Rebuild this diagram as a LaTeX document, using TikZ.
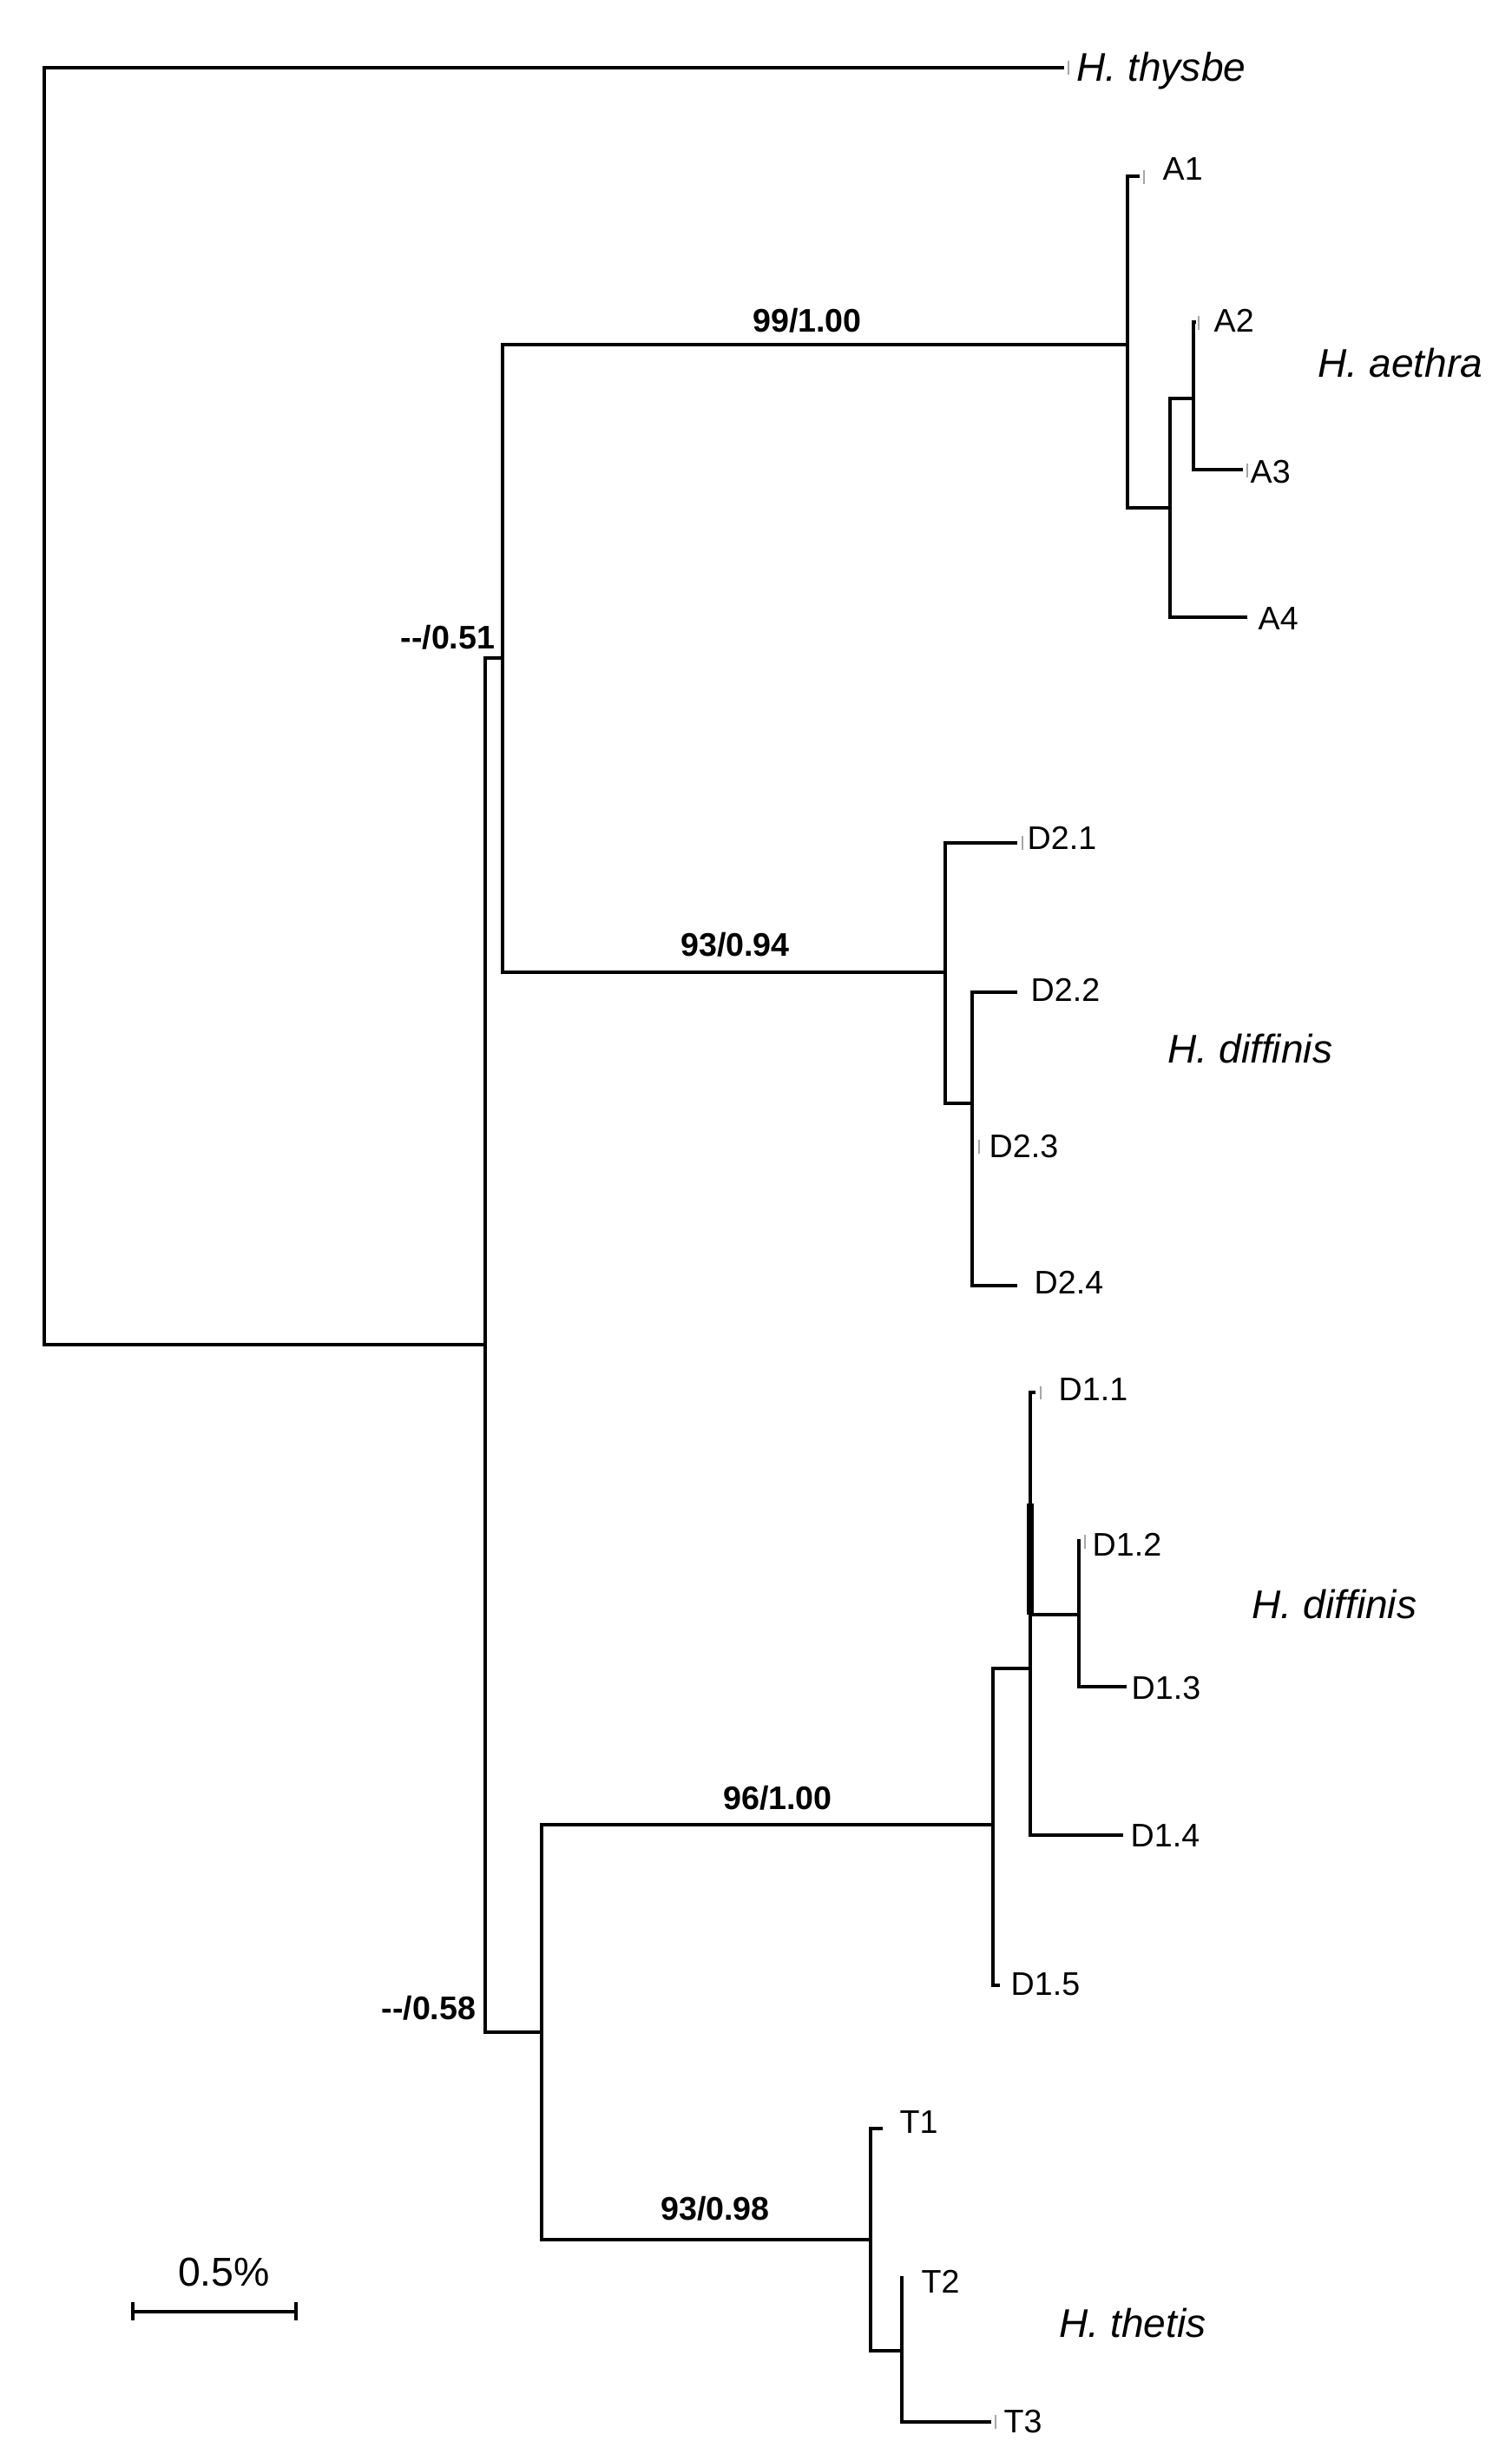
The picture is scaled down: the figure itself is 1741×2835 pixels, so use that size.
\documentclass[tikz,border=0pt]{standalone}
\usepackage{fontspec}
\setmainfont{Liberation Sans}
\begin{document}
\begin{tikzpicture}[x=0.01cm,y=-0.01cm,
  br/.style={line width=1.1pt, line join=miter},
  tick/.style={line width=0.5pt, draw=black!35},
  leaf/.style={anchor=base west, inner sep=0pt, font=\fontsize{10.7}{12}\selectfont},
  spec/.style={anchor=base west, inner sep=0pt, font=\fontsize{13.1}{15}\selectfont\itshape},
  supp/.style={anchor=base, inner sep=0pt, font=\fontsize{10.7}{12}\selectfont\bfseries},
  suppr/.style={anchor=base east, inner sep=0pt, font=\fontsize{10.7}{12}\selectfont\bfseries},
  scalelbl/.style={anchor=base, inner sep=0pt, font=\fontsize{13.2}{15}\selectfont}]
\useasboundingbox (0,0) rectangle (1741,2835);

% internal nodes and tips
\coordinate (root) at (51,814);
\coordinate (tthy) at (1226,78);
\coordinate (n1) at (559,1549);
\coordinate (nA) at (579,758);
\coordinate (nB) at (624,2341);
\coordinate (aeth) at (1299,397);
\coordinate (tA1) at (1313,203);
\coordinate (a234) at (1348,585);
\coordinate (a23) at (1375,459);
\coordinate (tA2) at (1378,371);
\coordinate (tA3) at (1432,541);
\coordinate (tA4) at (1437,711);
\coordinate (d2) at (1089,1120);
\coordinate (tD21) at (1172,971);
\coordinate (d234) at (1120,1271);
\coordinate (tD22) at (1172,1143);
\coordinate (tD23) at (1122,1321);
\coordinate (tD24) at (1172,1481);
\coordinate (d1) at (1144,2102);
\coordinate (d1a) at (1187,1922);
\coordinate (tD11) at (1193,1604);
\coordinate (d1b) at (1243,1860);
\coordinate (tD12) at (1245,1775);
\coordinate (tD13) at (1298,1943);
\coordinate (tD14) at (1294,2114);
\coordinate (tD15) at (1152,2287);
\coordinate (tt) at (1003,2580);
\coordinate (tT1) at (1017,2452);
\coordinate (t23) at (1039,2708);
\coordinate (tT2) at (1041,2624);
\coordinate (tT3) at (1142,2790);

% branches
\draw[br] (root) |- (tthy);
\draw[br] (root) |- (n1);
\draw[br] (n1) |- (nA);
\draw[br] (n1) |- (nB);
\draw[br] (nA) |- (aeth);
\draw[br] (nA) |- (d2);
\draw[br] (aeth) |- (tA1);
\draw[br] (aeth) |- (a234);
\draw[br] (a234) |- (a23);
\draw[br] (a234) |- (tA4);
\draw[br] (a23) |- (tA2);
\draw[br] (a23) |- (tA3);
\draw[br] (d2) |- (tD21);
\draw[br] (d2) |- (d234);
\draw[br] (d234) |- (tD22);
\draw[br] (d234) |- (tD23);
\draw[br] (d234) |- (tD24);
\draw[br] (nB) |- (d1);
\draw[br] (nB) |- (tt);
\draw[br] (d1) |- (d1a);
\draw[br] (d1) |- (tD15);
\draw[br] (d1a) |- (tD11);
\draw[br] (d1a) |- (d1b);
\draw[br] (d1a) |- (tD14);
\draw[br] (d1b) |- (tD12);
\draw[br] (d1b) |- (tD13);
\draw[line width=2pt] (1187,1732) -- (1187,1860);
\draw[br] (tt) |- (tT1);
\draw[br] (tt) |- (t23);
\draw[br] (t23) |- (tT2);
\draw[br] (t23) |- (tT3);

% faint tip ticks
\draw[tick] (1231,70) -- (1231,86);
\draw[tick] (1318,196) -- (1318,212);
\draw[tick] (1381,364) -- (1381,380);
\draw[tick] (1437,534) -- (1437,550);
\draw[tick] (1178,963) -- (1178,979);
\draw[tick] (1128,1313) -- (1128,1329);
\draw[tick] (1199,1597) -- (1199,1612);
\draw[tick] (1250,1768) -- (1250,1784);
\draw[tick] (1147,2782) -- (1147,2798);

% leaf labels
\node[leaf] (lA1) at (1339,207) {A1};
\node[leaf] (lA2) at (1398,382) {A2};
\node[leaf] (lA3) at (1440,556) {A3};
\node[leaf] (lA4) at (1449,725) {A4};
\node[leaf] (lD21) at (1183,978) {D2.1};
\node[leaf] (lD22) at (1187,1153) {D2.2};
\node[leaf] (lD23) at (1139,1333) {D2.3};
\node[leaf] (lD24) at (1191,1490) {D2.4};
\node[leaf] (lD11) at (1219,1613) {D1.1};
\node[leaf] (lD12) at (1258,1792) {D1.2};
\node[leaf] (lD13) at (1303,1957) {D1.3};
\node[leaf] (lD14) at (1302,2127) {D1.4};
\node[leaf] (lD15) at (1164,2298) {D1.5};
\node[leaf] (lT1) at (1036,2457) {T1};
\node[leaf] (lT2) at (1061,2641) {T2};
\node[leaf] (lT3) at (1156,2802) {T3};

% species labels
\node[spec] (sthy) at (1240,93) {H. thysbe};
\node[spec] (saeth) at (1518,434) {H. aethra};
\node[spec] (sdif2) at (1345,1224) {H. diffinis};
\node[spec] (sdif1) at (1442,1864) {H. diffinis};
\node[spec] (sthe) at (1220,2692) {H. thetis};

% support values
\node[supp] (s1) at (930,382) {99/1.00};
\node[supp] (s2) at (847,1101) {93/0.94};
\node[suppr] (s3) at (571,747) {-{}-/0.51};
\node[supp] (s4) at (896,2084) {96/1.00};
\node[suppr] (s5) at (549,2326) {-{}-/0.58};
\node[supp] (s6) at (824,2557) {93/0.98};

% scale bar
\coordinate (sbl) at (153,2663);
\coordinate (sbr) at (341,2663);
\draw[br] (sbl) -- (sbr);
\draw[br] (153,2652) -- (153,2673);
\draw[br] (341,2652) -- (341,2673);
\node[scalelbl] (sblab) at (258,2633) {0.5\%};
\end{tikzpicture}
\end{document}
